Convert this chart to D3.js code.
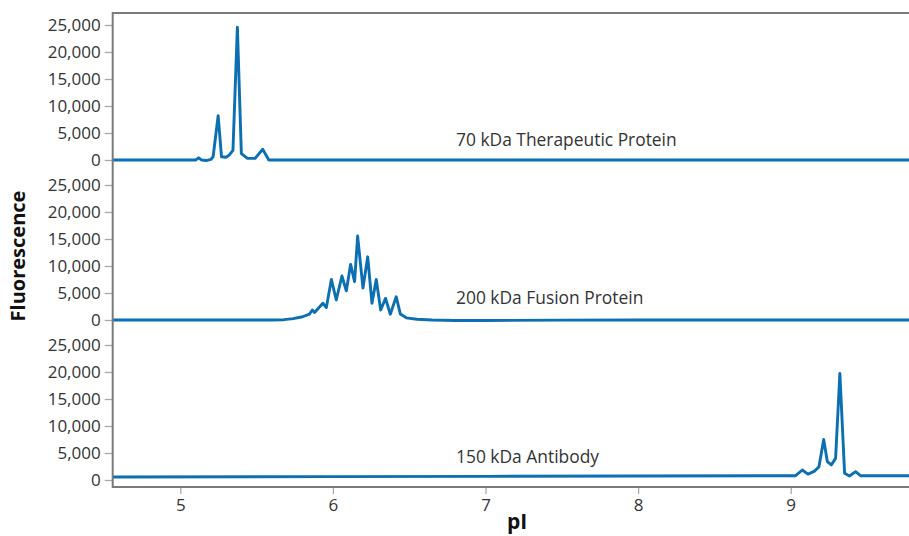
<!DOCTYPE html>
<html>
<head>
<meta charset="utf-8">
<script src="https://cdn.jsdelivr.net/npm/d3@7"></script>
<style>
  body { margin: 0; background: #fff; }
  svg { display: block; font-family: "Open Sans", "Noto Sans", sans-serif; }
</style>
</head>
<body>
<svg id="chart"></svg>
<script>
// Stacked capillary IEF traces: fluorescence vs pI for three proteins

const width = 909;
const height = 536;

// panel labels, top to bottom
const panelNames = ["70 kDa Therapeutic Protein", "200 kDa Fusion Protein", "150 kDa Antibody"];

// [pI, fluorescence]
const therapeutic70 = [
    [4.557, 0], [5.10, 0], [5.12, 400], [5.14, 0], [5.17, -100], [5.20, 100],
    [5.215, 600], [5.248, 8200], [5.27, 600], [5.30, 500], [5.32, 900],
    [5.345, 1800], [5.374, 24600], [5.40, 1200], [5.44, 300], [5.49, 300],
    [5.54, 2000], [5.58, 0], [9.8, 0]
];

const fusion200 = [
    [4.557, 0], [5.60, 0], [5.68, 60], [5.74, 250], [5.801, 600], [5.847, 1100],
    [5.865, 1850], [5.880, 1400], [5.934, 3100], [5.957, 2300], [5.990, 7500],
    [6.022, 3700], [6.059, 8150], [6.088, 5400], [6.116, 10300], [6.142, 7100],
    [6.162, 15550], [6.197, 5900], [6.228, 11700], [6.256, 3100], [6.284, 7500],
    [6.313, 1850], [6.345, 4000], [6.376, 1050], [6.415, 4300], [6.442, 1100],
    [6.481, 400], [6.55, 150], [6.65, 0], [6.8, -100], [7.0, -80], [7.5, -30],
    [8.0, 0], [9.8, 0]
];

const antibody150 = [
    [4.557, 550], [6.0, 620], [7.0, 680], [8.0, 740], [9.032, 800], [9.076, 1850],
    [9.113, 1100], [9.157, 1650], [9.185, 2450], [9.216, 7500], [9.240, 3400],
    [9.266, 2800], [9.294, 4000], [9.322, 19750], [9.353, 1250], [9.385, 750],
    [9.425, 1550], [9.457, 800], [9.8, 800]
];

const traces = [therapeutic70, fusion200, antibody150];

const xTicks = [5, 6, 7, 8, 9];
const yTicks = [0, 5000, 10000, 15000, 20000, 25000];

const plotLeft = 112.7;
const plotTop = 13;
const plotBottom = 487;
const panelStep = 160;
const labelBaselines = [146, 304, 463];

const svg = d3.select("#chart")
    .attr("width", width)
    .attr("height", height);

const x = d3.scaleLinear()
    .domain([4.557, 9.775])
    .range([plotLeft, 909]);

// one y scale per panel, shifted down by panelStep each time
const yScales = traces.map((t, i) => d3.scaleLinear()
    .domain([0, 25000])
    .range([160 + i * panelStep, 25 + i * panelStep]));

const lineColor = "#0b6fb1";
const frameColor = "#7a7a7a";
const textColor = "#333";

// traces
traces.forEach((data, i) => {
    const y = yScales[i];
    svg.append("path")
        .datum(data)
        .attr("fill", "none")
        .attr("stroke", lineColor)
        .attr("stroke-width", 2.9)
        .attr("stroke-linejoin", "round")
        .attr("d", d3.line().x(d => x(d[0])).y(d => y(d[1])));

    svg.append("text")
        .attr("x", 456)
        .attr("y", labelBaselines[i])
        .attr("font-size", "17.4px")
        .attr("fill", textColor)
        .text(panelNames[i]);

    // y axis for this panel
    const yAxis = svg.append("g")
        .attr("transform", `translate(${plotLeft},0)`)
        .call(d3.axisLeft(y).tickValues(yTicks).tickSize(8).tickPadding(4)
            .tickFormat(d3.format(",")));
    yAxis.select(".domain").remove();
    yAxis.selectAll(".tick line").attr("stroke", "#aaa").attr("stroke-width", 1.3);
    yAxis.selectAll(".tick text")
        .attr("font-size", "17px")
        .attr("font-family", "'Open Sans', sans-serif")
        .attr("fill", textColor);
});

// x axis
const xAxis = svg.append("g")
    .attr("transform", `translate(0,${plotBottom})`)
    .call(d3.axisBottom(x).tickValues(xTicks).tickSize(7).tickPadding(5)
        .tickFormat(d3.format("d")));
xAxis.select(".domain").remove();
xAxis.selectAll(".tick line").attr("stroke", "#aaa").attr("stroke-width", 1.3);
xAxis.selectAll(".tick text")
    .attr("font-size", "17px")
    .attr("font-family", "'Open Sans', sans-serif")
    .attr("fill", textColor);

// frame: top, left, bottom
svg.append("path")
    .attr("fill", "none")
    .attr("stroke", frameColor)
    .attr("stroke-width", 2)
    .attr("d", `M909,${plotTop}H${plotLeft}V${plotBottom}H909`);

// axis titles
svg.append("text")
    .attr("x", 517)
    .attr("y", 529)
    .attr("text-anchor", "middle")
    .attr("font-size", "21px")
    .attr("font-weight", "bold")
    .attr("fill", "#111")
    .text("pI");

svg.append("text")
    .attr("transform", "translate(25,256) rotate(-90)")
    .attr("text-anchor", "middle")
    .attr("font-size", "20px")
    .attr("font-weight", "bold")
    .attr("fill", "#111")
    .text("Fluorescence");
</script>
</body>
</html>
